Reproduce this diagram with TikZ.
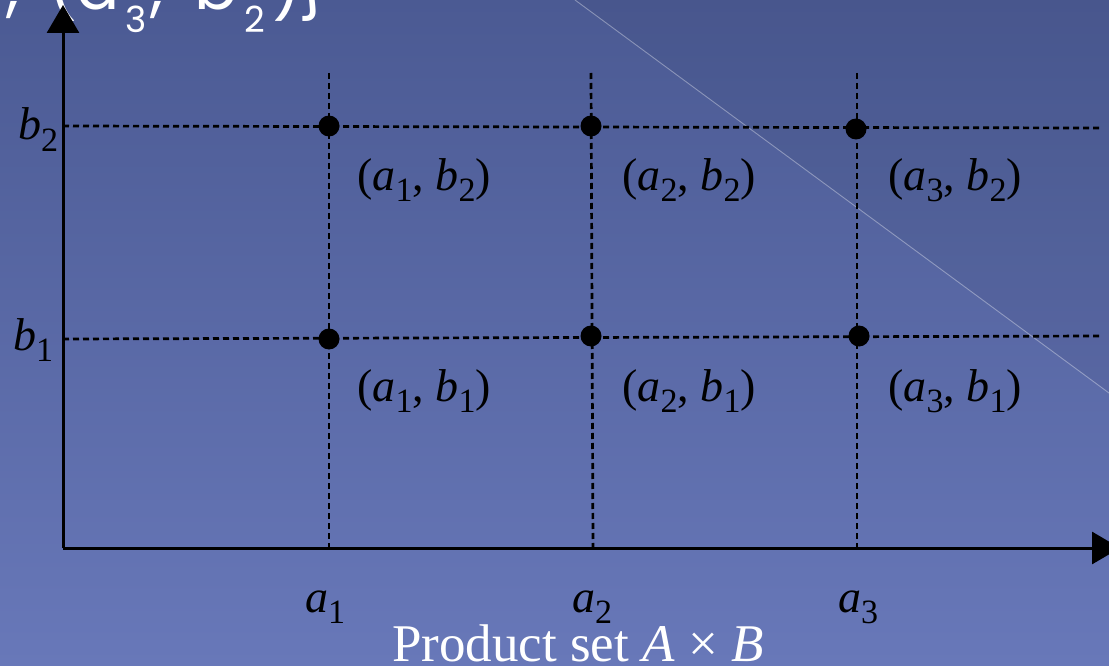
\documentclass[tikz,border=0pt]{standalone}
\usepackage{fontspec}
\usepackage{graphicx}
\setmainfont{Liberation Serif}
\newfontfamily\titlesans{Poppins}
\usetikzlibrary{arrows.meta}
\definecolor{bgtop}{HTML}{4B5A93}
\definecolor{bgbot}{HTML}{6878B9}
\newcommand\lsub[2]{\textit{#1}\raisebox{-0.24em}{\scalebox{0.74}{#2}}}
\tikzset{
  axisline/.style={line width=3pt, -{Triangle[length=28pt,width=32pt]}},
  gridline/.style={line width=2.7pt, dash pattern=on 6pt off 4pt},
  ptdot/.style={circle, fill=black, inner sep=0pt, minimum size=21pt},
  pairlabel/.style={anchor=base west, inner sep=0pt, font=\fontsize{46}{50}\selectfont},
  ticklabel/.style={anchor=base west, inner sep=0pt, font=\fontsize{46}{50}\selectfont},
  titlebig/.style={anchor=base west, inner sep=0pt, text=white, font=\titlesans\fontsize{64}{68}\selectfont},
  titlesmall/.style={anchor=base west, inner sep=0pt, text=white, font=\titlesans\fontsize{36}{40}\selectfont},
}
\begin{document}
\begin{tikzpicture}[x=1pt,y=-1pt]
\useasboundingbox (0,0) rectangle (1109,666);
\clip (0,0) rectangle (1109,666);
\shade[top color=bgtop, bottom color=bgbot] (0,0) rectangle (1109,666);
\fill[black, opacity=0.04] (575,0) -- (1109,0) -- (1109,393) -- cycle;
\draw[white, opacity=0.35, line width=0.9pt] (575,0) -- (1109,393);
% partial title text (cut off at the top edge)
\node[titlebig] (t1) at (6,10) {,};
\node[titlebig] (t2) at (48,10) {(};
\node[titlebig] (t3) at (76,10) {a};
\node[titlesmall] (t4) at (125,33) {3};
\node[titlebig] (t5) at (150,10) {,};
\node[titlebig] (t6) at (194,10) {b};
\node[titlesmall] (t7) at (244,33) {2};
\node[titlebig] (t8) at (272,10) {)};
\node[titlebig] (t9) at (298,10) {\}};
% axes
\coordinate (O) at (63,548);
\coordinate (ytip) at (63,5);
\coordinate (xtip) at (1120,548);
% grid coordinates
\coordinate (a1top) at (329,73);
\coordinate (a2top) at (591,73);
\coordinate (a3top) at (857,73);
\coordinate (a1bot) at (329,548);
\coordinate (a2bot) at (593,548);
\coordinate (a3bot) at (857,548);
\coordinate (b2l) at (63,126);
\coordinate (b2r) at (1101,128);
\coordinate (b1l) at (63,339);
\coordinate (b1r) at (1101,336);
\draw[gridline] (a1top) -- (a1bot);
\draw[gridline] (a2top) -- (a2bot);
\draw[gridline] (a3top) -- (a3bot);
\draw[gridline] (b2l) -- (b2r);
\draw[gridline] (b1l) -- (b1r);
\draw[axisline] (O) -- (ytip);
\draw[axisline] (O) -- (xtip);
% dots
\node[ptdot] (p12) at (329,126) {};
\node[ptdot] (p22) at (591,126) {};
\node[ptdot] (p32) at (856,129) {};
\node[ptdot] (p11) at (329,339) {};
\node[ptdot] (p21) at (591,336) {};
\node[ptdot] (p31) at (859,336) {};
% pair labels
\node[pairlabel] (l12) at (357,190) {(\lsub{a}{1}, \lsub{b}{2})};
\node[pairlabel] (l22) at (622,190) {(\lsub{a}{2}, \lsub{b}{2})};
\node[pairlabel] (l32) at (888,190) {(\lsub{a}{3}, \lsub{b}{2})};
\node[pairlabel] (l11) at (357,401) {(\lsub{a}{1}, \lsub{b}{1})};
\node[pairlabel] (l21) at (622,401) {(\lsub{a}{2}, \lsub{b}{1})};
\node[pairlabel] (l31) at (888,401) {(\lsub{a}{3}, \lsub{b}{1})};
% axis labels
\node[ticklabel] (tb2) at (18,140) {\lsub{b}{2}};
\node[ticklabel] (tb1) at (13,350) {\lsub{b}{1}};
\node[ticklabel] (ta1) at (305,612) {\lsub{a}{1}};
\node[ticklabel] (ta2) at (572,612) {\lsub{a}{2}};
\node[ticklabel] (ta3) at (838,612) {\lsub{a}{3}};
% caption
\node[anchor=base west, inner sep=0pt, text=white, font=\fontsize{53}{57}\selectfont] (cap) at (392,661)
  {Product set \textit{A} \texttimes{} \textit{B}};
\end{tikzpicture}
\end{document}
